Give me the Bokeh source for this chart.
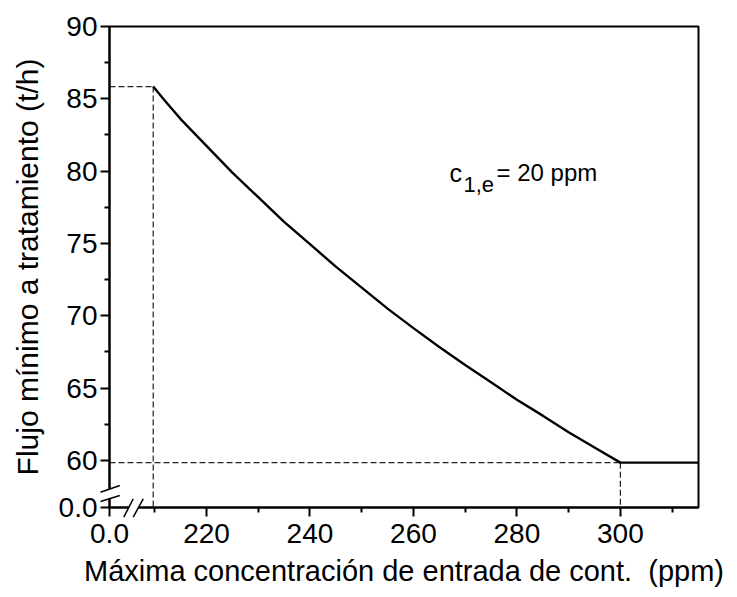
from bokeh.plotting import figure
from bokeh.models import Range1d, FixedTicker, PrintfTickFormatter
from bokeh.core.properties import value
from bokeh.embed import file_html
from bokeh.resources import INLINE

# ---- data ----
conc = [209.7, 212, 215, 220, 225, 230, 235, 240, 245, 250, 255, 260, 265, 270, 275,
        280, 285, 290, 295, 300, 315]
flow = [85.85, 84.85, 83.6, 81.75, 79.9, 78.2, 76.5, 74.95, 73.4, 71.95, 70.5, 69.15,
        67.85, 66.6, 65.4, 64.2, 63.1, 61.95, 60.9, 59.85, 59.85]

x_major = [220, 240, 260, 280, 300]
x_minor = [210, 230, 250, 270, 290, 310]
y_major = [60, 65, 70, 75, 80, 85, 90]
y_minor = [62.5, 67.5, 72.5, 77.5, 82.5, 87.5]

X_BREAK = 201.25   # where the "0.0" of the broken x axis sits
Y_BREAK = 56.75    # where the "0.0" of the broken y axis sits
X_END = 315.1
Y_END = 90.0

FONT = "Liberation Sans"

W, H = 737, 597
L, R, T, B = 109, 39, 26, 90

p = figure(width=W, height=H, output_backend="svg", toolbar_location=None,
           x_range=Range1d(X_BREAK, X_END), y_range=Range1d(Y_BREAK, Y_END),
           min_border_left=L, min_border_right=R, min_border_top=T, min_border_bottom=B)
p.xgrid.visible = False
p.ygrid.visible = False
p.outline_line_color = "black"
p.outline_line_width = 2
p.background_fill_color = "white"
p.border_fill_color = "white"

fw = W - L - R
fh = H - T - B
def px2x(px):
    return X_BREAK + (px - L) * (X_END - X_BREAK) / fw
def py2y(py):
    return Y_END - (py - T) * (Y_END - Y_BREAK) / fh

for ax, major, minor, brk in ((p.xaxis[0], x_major, x_minor, X_BREAK),
                              (p.yaxis[0], y_major, y_minor, Y_BREAK)):
    ax.ticker = FixedTicker(ticks=[brk] + major, minor_ticks=minor)
    ax.formatter = PrintfTickFormatter(format="%d")
    ax.major_label_overrides = {brk: "0.0"}
    ax.axis_line_width = 2
    ax.major_tick_line_width = 2
    ax.minor_tick_line_width = 2
    ax.major_tick_in = 0
    ax.minor_tick_in = 0
    ax.major_tick_out = 9
    ax.minor_tick_out = 5
    ax.major_label_text_font = FONT
    ax.major_label_text_font_size = "28px"
    ax.major_label_text_color = "black"
    ax.axis_label_text_font = FONT
    ax.axis_label_text_font_style = "normal"
    ax.axis_label_text_color = "black"

p.xaxis.axis_label = "Máxima concentración de entrada de cont.\u00a0\u00a0(ppm)"
p.yaxis.axis_label = "Flujo mínimo a tratamiento (t/h)"
p.xaxis.axis_label_text_font_size = "29px"
p.yaxis.axis_label_text_font_size = "30px"
p.xaxis.major_label_standoff = 7
p.yaxis.major_label_standoff = 3
p.xaxis.axis_label_standoff = 9
p.yaxis.axis_label_standoff = 12

# dashed guide lines
x0, y0 = conc[0], flow[0]
x1, y1 = conc[conc.index(300)], flow[conc.index(300)]
p.segment(x0=[X_BREAK, x0, X_BREAK, x1], y0=[y0, y0, y1, y1],
          x1=[x0, x0, x1, x1], y1=[y0, Y_BREAK, y1, Y_BREAK],
          line_color="#222222", line_width=1.2, line_dash="6 3")

# main curve
p.line(conc, flow, line_color="black", line_width=2.4)

# annotation c_{1,e} = 20 ppm
p.text(x=[px2x(449)], y=[py2y(172)], text=["c"], text_font=value(FONT),
       text_font_size="25px", text_baseline="alphabetic", text_align="left", text_color="black")
p.text(x=[px2x(463)], y=[py2y(184)], text=["1,e"], text_font=value(FONT),
       text_font_size="22px", text_baseline="alphabetic", text_align="left", text_color="black")
p.text(x=[px2x(496)], y=[py2y(172)], text=["= 20 ppm"], text_font=value(FONT),
       text_font_size="24px", text_baseline="alphabetic", text_align="left", text_color="black")

# axis break marks (drawn over the axes)
# y axis
p.patch(x=[px2x(104), px2x(114), px2x(114), px2x(104)],
        y=[py2y(490.5), py2y(487), py2y(496.5), py2y(500)],
        fill_color="white", line_color=None, level="overlay")
p.segment(x0=[px2x(100), px2x(100)], y0=[py2y(491.7), py2y(501)],
          x1=[px2x(119.3), px2x(119.3)], y1=[py2y(485), py2y(495)],
          line_color="black", line_width=1.5, level="overlay")
# x axis
p.patch(x=[px2x(126), px2x(131), px2x(140.5), px2x(135.5)],
        y=[py2y(511), py2y(503), py2y(503), py2y(511)],
        fill_color="white", line_color=None, level="overlay")
p.segment(x0=[px2x(123.3), px2x(132.7)], y0=[py2y(516.7), py2y(516.7)],
          x1=[px2x(132.7), px2x(142.7)], y1=[py2y(498.3), py2y(498.3)],
          line_color="black", line_width=1.5, level="overlay")

open("out.html", "w").write(file_html(p, INLINE))
